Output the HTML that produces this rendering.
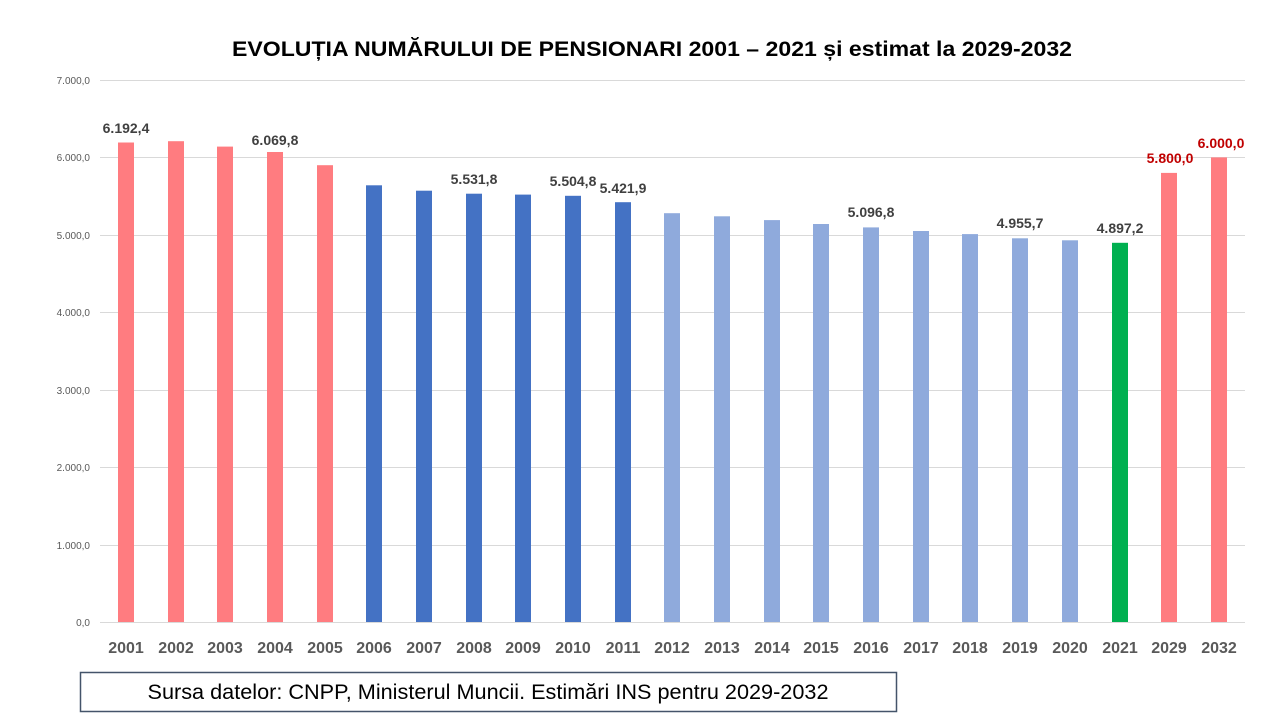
<!DOCTYPE html>
<html><head><meta charset="utf-8"><style>
body{margin:0;background:#fff;width:1280px;height:720px;overflow:hidden}
svg{font-family:"Liberation Sans",sans-serif}
</style></head><body>
<svg width="1280" height="720" viewBox="0 0 1280 720">
<text x="652" y="56" text-anchor="middle" font-size="21" font-weight="bold" fill="#000" textLength="840" lengthAdjust="spacingAndGlyphs">EVOLUȚIA NUMĂRULUI DE PENSIONARI 2001 – 2021 și estimat la 2029-2032</text>
<g stroke="#d9d9d9" stroke-width="1">
<line x1="100" x2="1245" y1="80.5" y2="80.5"/><line x1="100" x2="1245" y1="157.5" y2="157.5"/>
<line x1="100" x2="1245" y1="235.5" y2="235.5"/><line x1="100" x2="1245" y1="312.5" y2="312.5"/>
<line x1="100" x2="1245" y1="390.5" y2="390.5"/><line x1="100" x2="1245" y1="467.5" y2="467.5"/>
<line x1="100" x2="1245" y1="545.5" y2="545.5"/><line x1="100" x2="1245" y1="622.5" y2="622.5"/>
</g>
<g font-size="10" fill="#595959" text-anchor="end">
<text x="90" y="84">7.000,0</text><text x="90" y="161">6.000,0</text><text x="90" y="239">5.000,0</text>
<text x="90" y="316">4.000,0</text><text x="90" y="394">3.000,0</text><text x="90" y="471">2.000,0</text>
<text x="90" y="549">1.000,0</text><text x="90" y="626">0,0</text>
</g>
<g>
<rect x="118" y="142.5" width="16" height="479.5" fill="#FF7C80"/>
<rect x="168" y="141.2" width="16" height="480.8" fill="#FF7C80"/>
<rect x="217" y="146.6" width="16" height="475.4" fill="#FF7C80"/>
<rect x="267" y="152" width="16" height="470" fill="#FF7C80"/>
<rect x="317" y="165.2" width="16" height="456.8" fill="#FF7C80"/>
<rect x="366" y="185.3" width="16" height="436.7" fill="#4472C4"/>
<rect x="416" y="190.7" width="16" height="431.3" fill="#4472C4"/>
<rect x="466" y="193.7" width="16" height="428.3" fill="#4472C4"/>
<rect x="515" y="194.6" width="16" height="427.4" fill="#4472C4"/>
<rect x="565" y="195.8" width="16" height="426.2" fill="#4472C4"/>
<rect x="615" y="202.2" width="16" height="419.8" fill="#4472C4"/>
<rect x="664" y="213.2" width="16" height="408.8" fill="#8FAADC"/>
<rect x="714" y="216.3" width="16" height="405.7" fill="#8FAADC"/>
<rect x="764" y="220.1" width="16" height="401.9" fill="#8FAADC"/>
<rect x="813" y="224" width="16" height="398" fill="#8FAADC"/>
<rect x="863" y="227.4" width="16" height="394.6" fill="#8FAADC"/>
<rect x="913" y="231" width="16" height="391" fill="#8FAADC"/>
<rect x="962" y="234.1" width="16" height="387.9" fill="#8FAADC"/>
<rect x="1012" y="238.3" width="16" height="383.7" fill="#8FAADC"/>
<rect x="1062" y="240.3" width="16" height="381.7" fill="#8FAADC"/>
<rect x="1112" y="242.8" width="16" height="379.2" fill="#00B050"/>
<rect x="1161" y="172.9" width="16" height="449.1" fill="#FF7C80"/>
<rect x="1211" y="157.4" width="16" height="464.6" fill="#FF7C80"/>
</g>
<g font-size="14" font-weight="bold" fill="#404040" text-anchor="middle">
<text x="126" y="133">6.192,4</text><text x="275" y="145">6.069,8</text>
<text x="474" y="184">5.531,8</text><text x="573" y="186">5.504,8</text>
<text x="623" y="193">5.421,9</text><text x="871" y="217">5.096,8</text>
<text x="1020" y="228">4.955,7</text><text x="1120" y="233">4.897,2</text>
<text x="1170" y="163" fill="#C00000">5.800,0</text><text x="1221" y="148" fill="#C00000">6.000,0</text>
</g>
<g font-size="16" font-weight="bold" fill="#595959" text-anchor="middle">
<text x="126" y="653">2001</text><text x="176" y="653">2002</text><text x="225" y="653">2003</text>
<text x="275" y="653">2004</text><text x="325" y="653">2005</text><text x="374" y="653">2006</text>
<text x="424" y="653">2007</text><text x="474" y="653">2008</text><text x="523" y="653">2009</text>
<text x="573" y="653">2010</text><text x="623" y="653">2011</text><text x="672" y="653">2012</text>
<text x="722" y="653">2013</text><text x="772" y="653">2014</text><text x="821" y="653">2015</text>
<text x="871" y="653">2016</text><text x="921" y="653">2017</text><text x="970" y="653">2018</text>
<text x="1020" y="653">2019</text><text x="1070" y="653">2020</text><text x="1120" y="653">2021</text>
<text x="1169" y="653">2029</text><text x="1219" y="653">2032</text>
</g>
<rect x="80.5" y="672.5" width="816" height="39" fill="#fff" stroke="#44546A" stroke-width="1.5"/>
<text x="488" y="699" text-anchor="middle" font-size="21" fill="#000" textLength="681" lengthAdjust="spacingAndGlyphs">Sursa datelor: CNPP, Ministerul Muncii. Estimări INS pentru 2029-2032</text>
</svg>
</body></html>
